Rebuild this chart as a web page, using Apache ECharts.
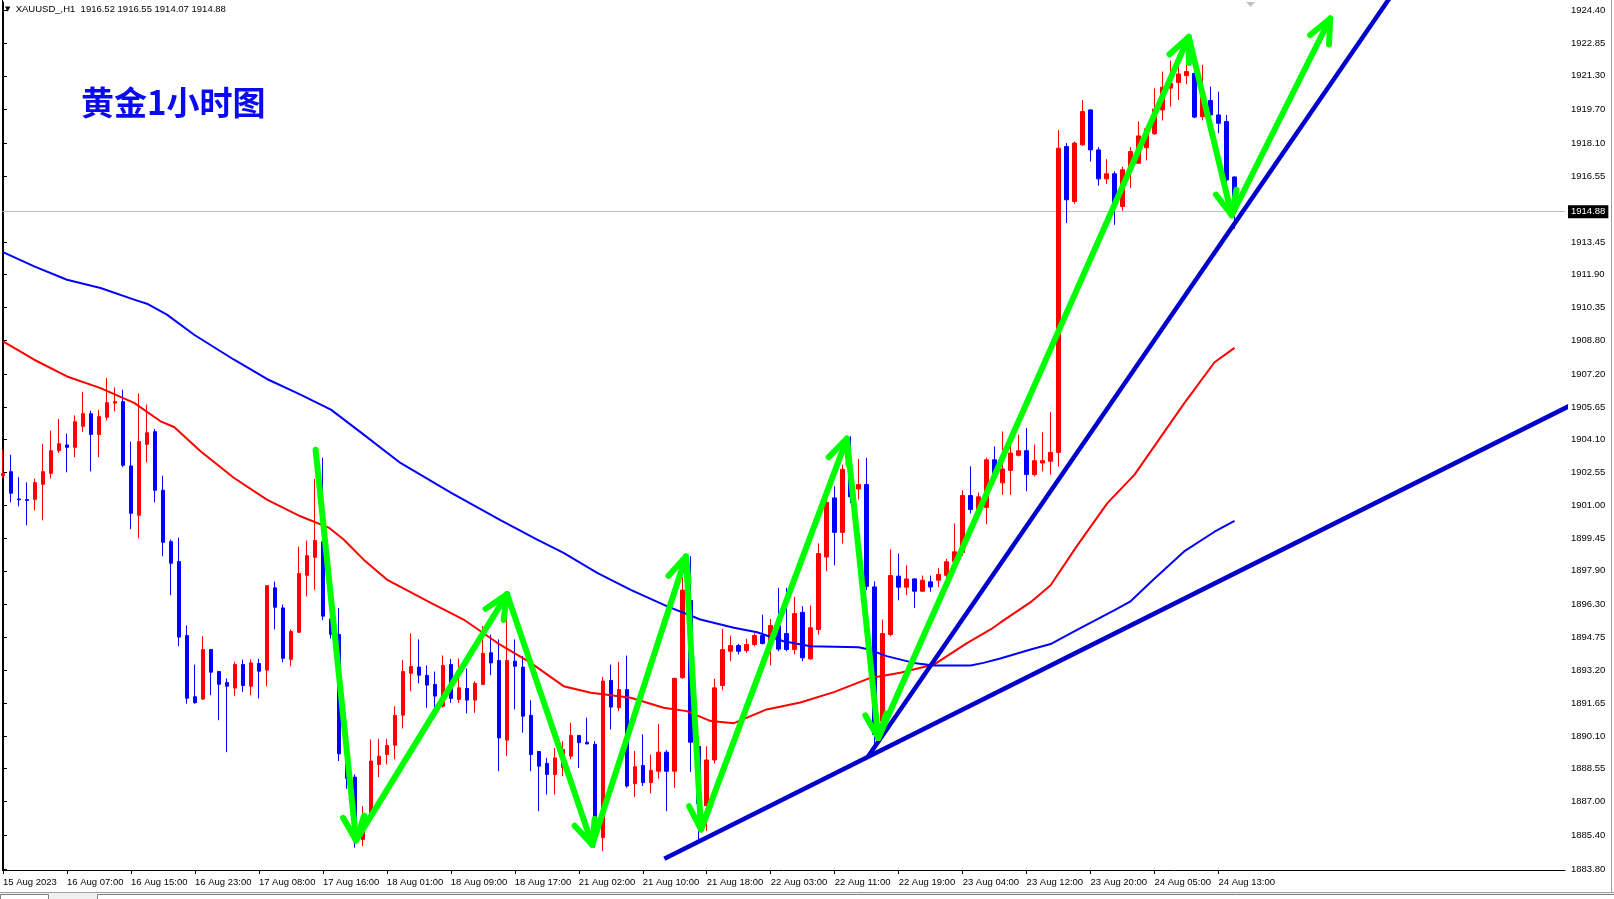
<!DOCTYPE html>
<html>
<head>
<meta charset="utf-8">
<script src="https://cdn.jsdelivr.net/npm/echarts@6/dist/echarts.min.js"></script>
<style>
html,body{margin:0;padding:0;background:#fff;}
#chart{width:1614px;height:899px;}
</style>
</head>
<body>
<div id="chart"></div>
<script>
// ---- DATA ----
const symbolName = 'XAUUSD_,H1';
// candles: index i (H1 bars from 15 Aug 23:00), open, close, low, high
const candleOpen = [1902.40,1902.59,1901.30,1901.27,1901.28,1901.99,1902.51,1903.58,1903.85,1903.74,
1904.73,1905.33,1904.35,1905.16,1905.83,1905.90,1902.86,1900.53,1903.88,1904.48,
1901.71,1899.28,1898.34,1894.84,1891.95,1891.84,1894.18,1893.14,1892.62,1892.36,
1893.47,1892.45,1893.52,1893.21,1897.10,1896.15,1893.72,1895.00,1897.69,1898.54,
1899.28,1895.63,1894.89,1889.25,1888.15,1885.20,1886.23,1888.75,1889.22,1889.66,
1891.08,1893.06,1893.35,1892.96,1892.53,1891.50,1893.47,1891.82,1892.34,1891.79,
1892.53,1894.03,1893.66,1889.90,1893.63,1893.35,1891.07,1889.36,1888.80,1888.27,
1888.60,1889.14,1890.12,1889.80,1889.70,1885.29,1892.72,1891.43,1892.29,1887.84,
1888.70,1887.89,1888.43,1889.33,1888.43,1892.85,1896.50,1889.60,1886.80,1888.96,
1892.48,1894.10,1894.37,1894.13,1894.42,1894.84,1894.47,1895.30,1894.94,1894.18,
1895.94,1893.74,1895.13,1898.56,1901.35,1899.72,1902.70,1901.77,1901.98,1897.14,
1890.80,1894.89,1897.65,1897.13,1897.52,1896.94,1897.38,1897.46,1897.69,1898.33,
1898.77,1901.46,1900.70,1900.90,1903.15,1902.06,1902.65,1903.36,1903.58,1902.45,
1903.00,1903.08,1903.50,1917.96,1915.36,1918.04,1919.69,1917.80,1916.43,1916.67,
1915.12,1916.86,1917.17,1917.90,1918.56,1919.69,1920.72,1920.98,1921.31,1921.41,
1919.37,1920.13,1919.45,1919.14,1916.52];
const candleClose = [1902.50,1901.57,1901.26,1901.23,1902.07,1902.59,1903.58,1903.91,1903.74,1904.95,
1905.33,1904.35,1905.19,1905.85,1905.90,1902.89,1900.62,1904.01,1904.43,1901.71,
1899.25,1898.26,1894.77,1891.88,1891.67,1894.18,1893.11,1892.54,1892.45,1893.47,
1892.48,1893.55,1893.16,1897.20,1896.18,1893.77,1895.03,1897.77,1898.62,1899.33,
1895.76,1894.90,1889.25,1888.09,1885.13,1886.30,1888.91,1889.14,1889.65,1891.07,
1893.14,1893.38,1892.97,1892.50,1891.98,1893.43,1891.87,1892.37,1891.79,1892.58,
1894.00,1893.55,1890.00,1893.66,1893.39,1891.03,1889.22,1888.67,1888.28,1889.06,
1889.46,1890.12,1889.78,1889.72,1885.36,1892.69,1891.46,1892.29,1887.73,1888.64,
1887.89,1888.47,1889.33,1888.43,1892.82,1896.99,1889.80,1886.90,1888.96,1892.37,
1894.18,1894.37,1894.10,1894.42,1894.84,1894.47,1895.32,1894.20,1894.18,1895.88,
1893.79,1895.21,1898.72,1901.14,1899.72,1902.70,1901.40,1901.98,1897.17,1890.17,
1894.94,1897.68,1897.13,1897.52,1896.94,1897.46,1897.14,1897.73,1898.33,1898.80,
1901.46,1900.80,1901.40,1903.15,1902.45,1902.72,1903.47,1903.58,1902.45,1903.11,
1903.11,1903.50,1917.88,1915.44,1918.12,1919.61,1917.80,1916.43,1916.67,1915.28,
1916.86,1917.72,1918.46,1918.80,1919.73,1920.76,1920.95,1921.39,1921.50,1919.35,
1920.30,1919.45,1919.06,1916.38,1914.88];
const candleLow = [1902.29,1901.14,1900.95,1900.05,1900.76,1900.29,1902.27,1903.47,1902.56,1903.27,
1904.47,1902.60,1903.27,1905.01,1905.44,1902.80,1899.87,1899.44,1903.03,1901.14,
1898.59,1896.75,1894.34,1891.62,1891.62,1891.80,1892.02,1890.84,1889.33,1891.98,
1892.17,1892.02,1891.87,1892.45,1895.13,1893.58,1893.39,1894.97,1896.69,1897.00,
1895.57,1894.70,1888.91,1887.60,1884.82,1884.89,1886.10,1888.15,1888.75,1888.99,
1890.45,1892.21,1892.58,1891.43,1891.43,1891.43,1891.66,1891.66,1891.16,1891.19,
1892.50,1892.97,1888.43,1889.14,1891.35,1890.25,1888.43,1886.54,1887.33,1887.33,
1888.20,1888.99,1888.58,1889.70,1884.82,1884.66,1890.40,1891.27,1887.65,1887.22,
1887.73,1887.38,1888.08,1886.54,1887.65,1892.80,1888.40,1885.20,1885.60,1888.80,
1892.26,1893.63,1893.95,1894.03,1894.34,1894.42,1893.43,1894.10,1894.10,1893.95,
1893.63,1893.70,1894.89,1897.88,1898.16,1899.19,1901.10,1901.27,1896.99,1889.70,
1890.20,1894.81,1896.51,1896.75,1896.15,1896.91,1896.91,1897.14,1897.50,1898.20,
1898.60,1900.61,1900.50,1900.10,1902.13,1901.50,1901.50,1903.31,1901.66,1902.37,
1902.60,1902.45,1902.84,1914.34,1915.25,1917.99,1917.25,1916.11,1916.19,1914.26,
1914.92,1915.99,1917.14,1917.30,1918.51,1919.19,1919.85,1920.16,1920.90,1919.30,
1919.20,1918.56,1918.59,1916.23,1914.07];
const candleHigh = [1903.63,1903.39,1902.32,1902.08,1902.26,1903.91,1904.53,1905.08,1904.39,1905.25,
1906.36,1905.47,1905.51,1907.02,1906.57,1906.46,1904.01,1906.28,1905.76,1904.61,
1902.40,1899.38,1899.47,1895.32,1893.47,1894.81,1894.20,1893.16,1892.82,1893.60,
1893.71,1893.71,1893.74,1897.22,1897.39,1896.31,1895.13,1899.05,1899.33,1902.24,
1903.25,1895.80,1896.15,1889.30,1888.28,1886.78,1889.93,1889.96,1889.96,1891.50,
1893.68,1894.94,1894.66,1893.43,1893.14,1893.90,1893.74,1893.76,1893.29,1892.69,
1895.29,1894.89,1894.66,1895.88,1894.66,1893.87,1891.78,1889.38,1889.06,1889.53,
1889.85,1890.72,1890.14,1890.96,1889.85,1892.88,1893.47,1893.59,1893.90,1889.38,
1890.17,1889.22,1890.67,1889.43,1892.85,1897.60,1898.59,1890.00,1889.61,1892.80,
1895.16,1894.84,1894.45,1894.69,1894.94,1895.83,1895.63,1897.10,1897.10,1896.67,
1896.23,1896.26,1899.20,1901.40,1901.90,1902.92,1904.26,1903.19,1903.24,1897.40,
1895.60,1898.91,1898.72,1898.16,1897.55,1897.68,1897.68,1898.04,1898.47,1900.14,
1901.71,1902.84,1901.60,1903.25,1903.78,1904.49,1903.87,1904.34,1904.65,1903.87,
1904.45,1905.40,1918.74,1918.12,1918.20,1920.16,1919.72,1917.93,1917.36,1916.78,
1917.00,1917.93,1919.14,1918.90,1920.71,1921.50,1922.02,1921.90,1922.29,1922.21,
1921.82,1920.79,1920.55,1919.45,1916.55];

// moving averages, read at bar positions
const maBlueIdx = [0,3.9,8,12.2,16.4,18,20.5,23.9,28.9,33,37.2,41,44.7,49.7,56,62.2,66.8,70.1,74.3,78.5,83,87.2,91.4,94.3,97.6,101,107,108.3,110.5,113.9,116.4,121,122.6,124.7,128.5,131,134.3,139,141,143.8,147.7,151.5,154];
const maBlueVal = [1912.97,1912.29,1911.66,1911.27,1910.72,1910.53,1910.01,1909.06,1907.88,1906.97,1906.23,1905.52,1904.46,1903.00,1901.60,1900.30,1899.38,1898.75,1897.81,1897.00,1896.23,1895.60,1895.21,1895.00,1894.57,1894.34,1894.29,1894.18,1893.87,1893.55,1893.43,1893.43,1893.55,1893.76,1894.18,1894.44,1895.11,1896.04,1896.46,1897.47,1898.82,1899.75,1900.26];
const maRedIdx = [0,3.9,8,12.2,16.4,19.7,21.4,24.7,28.9,33,37.2,40.8,42.6,45.1,48,53.5,57.6,61.8,66,70.1,73.5,78.5,82.6,85.5,88.5,91.4,95.5,99.7,103.9,108.3,112.2,116.4,120.6,123.5,124.7,128.5,131,134.3,138.1,141.5,147.7,151.5,154];
const maRedVal = [1908.75,1907.88,1907.09,1906.54,1905.84,1904.97,1904.70,1903.55,1902.29,1901.27,1900.48,1899.93,1899.38,1898.43,1897.49,1896.39,1895.60,1894.50,1893.55,1892.45,1892.14,1891.90,1891.43,1891.27,1890.80,1890.70,1891.35,1891.68,1892.17,1892.82,1893.08,1893.47,1894.50,1895.13,1895.45,1896.42,1897.22,1899.08,1901.10,1902.45,1905.82,1907.76,1908.44];

// trend lines (bar index, price)
const trendAX = [82.7, 196];
const trendAY = [1884.29, 1905.72];
const trendBX = [108.05, 174];
const trendBY = [1889.05, 1925.31];

// green zigzag arrow vertices (bar index, price)
const zigX = [39.09, 44.15, 63.03, 73.69, 85.4, 87.28, 105.53, 109.46, 148.28, 153.65, 165.96];
const zigY = [1903.63, 1885.16, 1896.80, 1884.95, 1898.58, 1885.68, 1904.15, 1890.00, 1923.14, 1914.71, 1924.01];

// axis labels
const xLabels = ['15 Aug 2023','16 Aug 07:00','16 Aug 15:00','16 Aug 23:00','17 Aug 08:00','17 Aug 16:00','18 Aug 01:00','18 Aug 09:00','18 Aug 17:00','21 Aug 02:00','21 Aug 10:00','21 Aug 18:00','22 Aug 03:00','22 Aug 11:00','22 Aug 19:00','23 Aug 04:00','23 Aug 12:00','23 Aug 20:00','24 Aug 05:00','24 Aug 13:00'];
const xLabelStep = 8;
const yTicks = [1924.40,1922.85,1921.30,1919.70,1918.10,1916.55,1913.45,1911.90,1910.35,1908.80,1907.20,1905.65,1904.10,1902.55,1901.00,1899.45,1897.90,1896.30,1894.75,1893.20,1891.65,1890.10,1888.55,1887.00,1885.40,1883.80];
const currentPrice = 1914.88;
const titleText = '黄金1小时图';

// ---- BUILD ----
const n = candleOpen.length;
const candleData = [];
for (let i = 0; i < n; i++) candleData.push([i, candleOpen[i], candleClose[i], candleLow[i], candleHigh[i]]);
const blueMA = maBlueIdx.map((x, k) => [x, maBlueVal[k]]);
const redMA = maRedIdx.map((x, k) => [x, maRedVal[k]]);
const segs = [];
for (let k = 0; k < zigX.length - 1; k++) segs.push([zigX[k], zigY[k], zigX[k+1], zigY[k+1]]);
const last = n - 1;
const headerText = '{t|▼}  ' + symbolName + '  ' + candleOpen[last].toFixed(2) + ' ' + candleHigh[last].toFixed(2) + ' ' + candleLow[last].toFixed(2) + ' ' + candleClose[last].toFixed(2);

const FONT = 'Liberation Sans';
const chart = echarts.init(document.getElementById('chart'), null, {renderer: 'canvas'});

function renderArrow(params, api) {
  const p1 = api.coord([api.value(0), api.value(1)]);
  const p2 = api.coord([api.value(2), api.value(3)]);
  const dx = p2[0] - p1[0], dy = p2[1] - p1[1];
  const len = Math.hypot(dx, dy);
  const ux = -dx / len, uy = -dy / len;
  const a = 24 * Math.PI / 180, L = 26;
  const rot = (x, y, t) => [x * Math.cos(t) - y * Math.sin(t), x * Math.sin(t) + y * Math.cos(t)];
  const r1 = rot(ux, uy, a), r2 = rot(ux, uy, -a);
  const style = {stroke: '#00ff00', lineWidth: 6, lineCap: 'round', lineJoin: 'round', fill: 'none'};
  return {
    type: 'group',
    children: [
      {type: 'line', shape: {x1: p1[0], y1: p1[1], x2: p2[0], y2: p2[1]}, style: style},
      {type: 'polyline', shape: {points: [[p2[0] + r1[0] * L, p2[1] + r1[1] * L], [p2[0], p2[1]], [p2[0] + r2[0] * L, p2[1] + r2[1] * L]]}, style: style}
    ]
  };
}

const option = {
  animation: false,
  backgroundColor: '#ffffff',
  title: [
    {text: headerText, left: 5, top: 4, padding: 0,
     textStyle: {fontFamily: FONT, fontSize: 9.5, fontWeight: 'normal', color: '#000',
       rich: {t: {fontSize: 7, fontFamily: 'DejaVu Sans', color: '#000'}}}},
    {text: titleText, left: 81, top: 85, padding: 0,
     textStyle: {fontFamily: 'Noto Sans CJK SC', fontSize: 33, lineHeight: 34, fontWeight: 'bold', color: '#0a0af0',
       textShadowColor: '#00005a', textShadowOffsetX: 2, textShadowOffsetY: 1, textShadowBlur: 0}}
  ],
  grid: {left: 2, right: 49, top: 2, bottom: 29, containLabel: false},
  xAxis: {
    type: 'value', min: -0.05, max: 195.325, position: 'bottom',
    axisLine: {show: true, lineStyle: {color: '#000', width: 1}},
    axisTick: {show: true, length: 4, inside: false, lineStyle: {color: '#000'},
      customValues: xLabels.map((_, k) => k * xLabelStep)},
    axisLabel: {show: true, customValues: xLabels.map((_, k) => k * xLabelStep),
      formatter: v => xLabels[Math.round(v / xLabelStep)] || '',
      align: 'left', margin: 7, fontFamily: FONT, fontSize: 9.5, color: '#000', padding: [0, 0, 0, 0]},
    splitLine: {show: false}
  },
  yAxis: {
    type: 'value', position: 'right', min: 1883.76, max: 1924.79, scale: true,
    axisLine: {show: true, lineStyle: {color: '#000', width: 1}},
    axisTick: {show: true, length: 4, inside: false, lineStyle: {color: '#000'}, customValues: yTicks},
    axisLabel: {show: true, customValues: yTicks, formatter: v => Number(v).toFixed(2),
      margin: 6, fontFamily: FONT, fontSize: 9.5, color: '#000'},
    splitLine: {show: false}
  },
  series: [
    {
      type: 'candlestick', name: 'price', data: candleData,
      encode: {x: 0, y: [1, 2, 3, 4]},
      barWidth: 4, z: 2,
      itemStyle: {color: '#ff0000', color0: '#0000ff', borderColor: '#ff0000', borderColor0: '#0000ff', borderWidth: 1},
      markLine: {
        silent: true, symbol: ['none', 'none'], z: 1,
        lineStyle: {color: '#c0c0c0', width: 1, type: 'solid'},
        label: {show: true, position: 'end', distance: 3, formatter: currentPrice.toFixed(2),
          backgroundColor: '#000', color: '#fff', padding: [2, 3, 1, 3], fontFamily: FONT, fontSize: 9.5},
        data: [{yAxis: currentPrice}]
      }
    },
    {type: 'line', name: 'MA-red', data: redMA, showSymbol: false, symbol: 'none', z: 3,
     lineStyle: {color: '#ff0000', width: 2}},
    {type: 'line', name: 'MA-blue', data: blueMA, showSymbol: false, symbol: 'none', z: 3,
     lineStyle: {color: '#0000ff', width: 2}},
    {type: 'line', name: 'trendA', data: trendAX.map((x, k) => [x, trendAY[k]]), showSymbol: false, symbol: 'none', z: 4, clip: true,
     lineStyle: {color: '#0000cd', width: 4.5}},
    {type: 'line', name: 'trendB', data: trendBX.map((x, k) => [x, trendBY[k]]), showSymbol: false, symbol: 'none', z: 4, clip: true,
     lineStyle: {color: '#0000cd', width: 4.5}},
    {type: 'custom', name: 'arrows', data: segs, renderItem: renderArrow, z: 5, clip: true,
     encode: {x: [0, 2], y: [1, 3]}}
  ],
  graphic: [
    {type: 'line', shape: {x1: 2.5, y1: 0, x2: 2.5, y2: 871}, style: {stroke: '#000', lineWidth: 1}, silent: true},
    {type: 'polygon', shape: {points: [[1246, 2], [1255, 2], [1250.5, 7]]}, style: {fill: '#c0c0c0'}, silent: true},
    {type: 'line', shape: {x1: 1611.5, y1: 0, x2: 1611.5, y2: 892}, style: {stroke: '#a0a0a0', lineWidth: 1}, silent: true},
    {type: 'rect', shape: {x: 0, y: 892, width: 1614, height: 7}, style: {fill: '#f0f0f0', stroke: null}, silent: true},
    {type: 'line', shape: {x1: 0, y1: 892.5, x2: 1614, y2: 892.5}, style: {stroke: '#a0a0a0', lineWidth: 1}, silent: true},
    {type: 'rect', shape: {x: 97.5, y: 894.5, width: 1520, height: 6}, style: {fill: '#ffffff', stroke: '#808080', lineWidth: 1}, silent: true},
    {type: 'rect', shape: {x: 0.5, y: 894.5, width: 48, height: 6}, style: {fill: '#ffffff', stroke: '#808080', lineWidth: 1}, silent: true}
  ]
};
chart.setOption(option);
</script>
</body>
</html>
